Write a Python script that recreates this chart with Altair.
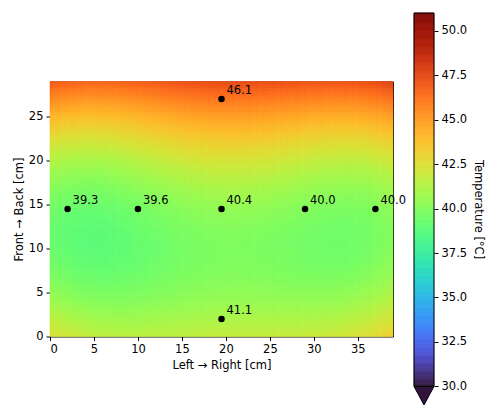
import numpy as np
import pandas as pd
import altair as alt

# Sensor positions (cm) and measured temperatures (°C)
sensor_x = [2.0, 10.0, 19.5, 29.0, 37.0, 19.5, 19.5]
sensor_y = [14.5, 14.5, 14.5, 14.5, 14.5, 27.0, 2.0]
sensor_t = [39.3, 39.6, 40.4, 40.0, 40.0, 46.1, 41.1]

board_w, board_h = 39.0, 29.0
t_min, t_max = 30.0, 51.0
cbar_ticks = [30.0, 32.5, 35.0, 37.5, 40.0, 42.5, 45.0, 47.5, 50.0]


def rbf_field(px, py, pv, qx, qy, eps=19.0):
    """Multiquadric radial-basis interpolation of the sensor readings."""
    p = np.column_stack([px, py])
    v = np.asarray(pv, dtype=float)

    def phi(r):
        return np.sqrt((r / eps) ** 2 + 1.0)

    d = np.linalg.norm(p[:, None, :] - p[None, :, :], axis=-1)
    w = np.linalg.solve(phi(d), v)
    q = np.column_stack([qx, qy])
    dq = np.linalg.norm(q[:, None, :] - p[None, :, :], axis=-1)
    return phi(dq) @ w


def turbo_stops(count=33):
    """Turbo colour ramp (polynomial form) with the ramp's exact end colours."""
    out = []
    for t in np.linspace(0, 1, count):
        r = 34.61 + t * (1172.33 - t * (10793.56 - t * (33300.12 - t * (38394.49 - t * 14825.05))))
        g = 23.31 + t * (557.33 + t * (1225.33 - t * (3574.96 - t * (1073.77 + t * 707.56))))
        b = 27.2 + t * (3211.1 - t * (15327.97 - t * (27814 - t * (22569.18 - t * 6838.66))))
        rgb = [int(round(min(255, max(0, c)))) for c in (r, g, b)]
        out.append("#%02x%02x%02x" % tuple(rgb))
    out[0] = "#30123b"
    out[-1] = "#7a0403"
    return out


# Grid of cells covering the board
nx, ny = 100, 75
xe = np.linspace(0, board_w, nx + 1)
ye = np.linspace(0, board_h, ny + 1)
X0, Y0 = np.meshgrid(xe[:-1], ye[:-1])
X1, Y1 = np.meshgrid(xe[1:], ye[1:])
cx = ((X0 + X1) / 2).ravel()
cy = ((Y0 + Y1) / 2).ravel()
field = pd.DataFrame({
    "x0": X0.ravel(), "x1": X1.ravel(),
    "y0": Y0.ravel(), "y1": Y1.ravel(),
    "t": rbf_field(sensor_x, sensor_y, sensor_t, cx, cy),
})

sensors = pd.DataFrame({"x": sensor_x, "y": sensor_y, "t": sensor_t})

color_scale = alt.Scale(domain=[t_min, t_max], range=turbo_stops(),
                        interpolate="rgb", clamp=True)
font = "DejaVu Sans"
fs = 11.5

xs = alt.Scale(domain=[0, board_w], nice=False, zero=False)
ys = alt.Scale(domain=[0, board_h], nice=False, zero=False)

heat = alt.Chart(field).mark_rect(strokeWidth=0.6).encode(
    x=alt.X("x0:Q", scale=xs, title="Left → Right [cm]",
            axis=alt.Axis(values=[0, 5, 10, 15, 20, 25, 30, 35])),
    x2="x1:Q",
    y=alt.Y("y0:Q", scale=ys, title="Front → Back [cm]",
            axis=alt.Axis(values=[0, 5, 10, 15, 20, 25])),
    y2="y1:Q",
    color=alt.Color("t:Q", scale=color_scale, legend=None),
    stroke=alt.Stroke("t:Q", scale=color_scale, legend=None),
)

dots = alt.Chart(sensors).mark_point(
    filled=True, color="black", size=42, opacity=1
).encode(x="x:Q", y="y:Q")

labels = alt.Chart(sensors).mark_text(
    align="left", baseline="bottom", dx=5, dy=-3,
    font=font, fontSize=fs, color="black"
).encode(x="x:Q", y="y:Q", text=alt.Text("t:Q", format=".1f"))

main = alt.layer(heat, dots, labels).properties(
    width=343, height=255,
    view=alt.ViewBackground(stroke="black", strokeWidth=1),
)

# Colorbar: stacked thin bands, outline, and a "below range" triangle
step = 0.05
levels = np.round(np.arange(t_min, t_max, step), 4)
cbar_df = pd.DataFrame({"lo": levels, "hi": levels + step, "t": levels + step / 2})
ext = 0.05 * (t_max - t_min)
cbar_h = 373
cs = alt.Scale(domain=[t_min - ext, t_max], nice=False, zero=False)

bands = alt.Chart(cbar_df).mark_rect(strokeWidth=0.5).encode(
    y=alt.Y("lo:Q", scale=cs, title="Temperature [°C]",
            axis=alt.Axis(orient="right", values=cbar_ticks, format=".1f",
                          titleAngle=90, titleBaseline="bottom", titlePadding=6)),
    y2="hi:Q",
    color=alt.Color("t:Q", scale=color_scale, legend=None),
    stroke=alt.Stroke("t:Q", scale=color_scale, legend=None),
)

outline_df = pd.DataFrame({"lo": [t_min], "hi": [t_max]})
outline = alt.Chart(outline_df).mark_rect(
    fill=None, stroke="black", strokeWidth=1
).encode(y="lo:Q", y2="hi:Q")

tri_df = pd.DataFrame({"y": [t_min - ext / 2], "t": [t_min]})
triangle = alt.Chart(tri_df).mark_point(
    shape="M-1,-0.93L1,-0.93L0,0.93Z", size=400, filled=True,
    stroke="black", strokeWidth=1, opacity=1, strokeOpacity=1
).encode(
    y="y:Q",
    color=alt.Color("t:Q", scale=color_scale, legend=None),
)

cbar = alt.layer(bands, outline, triangle).properties(
    width=20, height=round(cbar_h * 1.05),
    view=alt.ViewBackground(stroke=None),
)

chart = alt.hconcat(main, cbar, spacing=21, bounds="flush", center=True).resolve_scale(
    x="independent", y="independent"
).properties(
    padding={"left": 12, "top": 12, "right": 5, "bottom": 5},
    background="white",
).configure_axis(
    labelFont=font, labelFontSize=fs, labelColor="black",
    titleFont=font, titleFontSize=fs, titleColor="black", titleFontWeight="normal",
    tickColor="black", tickSize=4, tickWidth=1, labelPadding=3,
    domain=False, grid=False,
)

chart.save("out.html", embed_options={"renderer": "svg", "actions": False})
